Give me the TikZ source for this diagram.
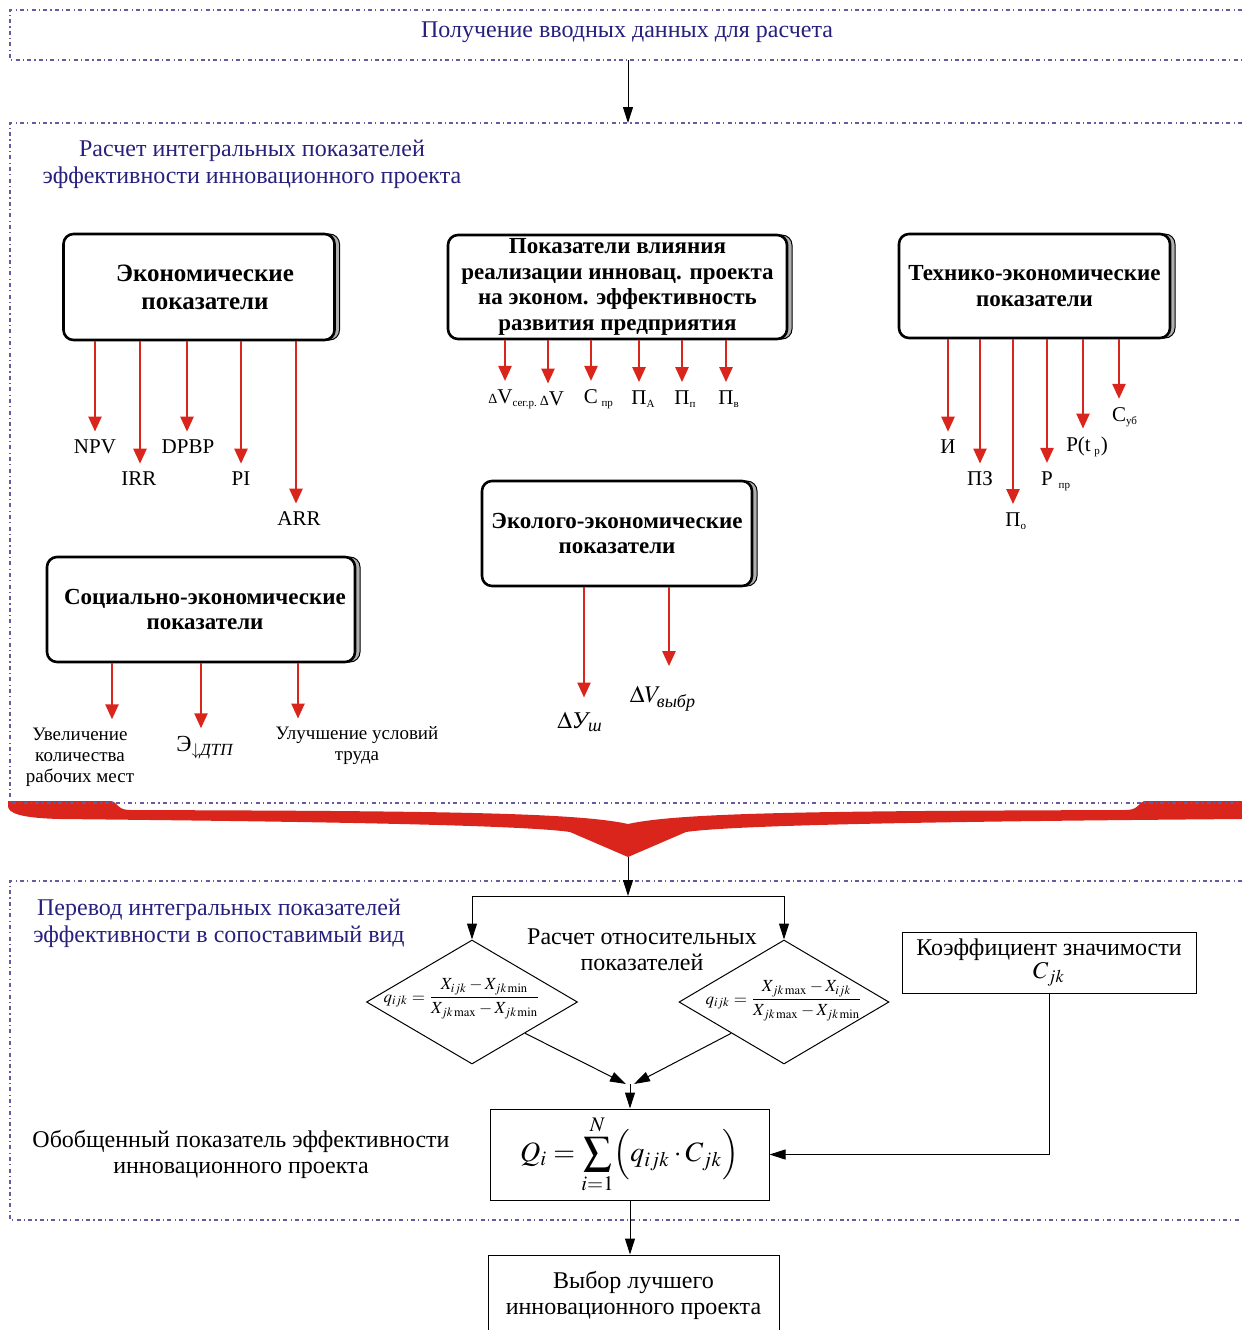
\documentclass[tikz,border=0pt]{standalone}
\usepackage{amsmath}
\usepackage{mathptmx}
\usepackage[no-math]{fontspec}
\setmainfont{Liberation Serif}
\usetikzlibrary{arrows.meta,shapes.geometric,shadows}

\definecolor{frameviolet}{RGB}{105,90,160}
\definecolor{headnavy}{RGB}{40,32,125}
\definecolor{arrowred}{RGB}{218,37,29}
\definecolor{shadegray}{RGB}{175,175,175}

\newcommand{\tinysub}[1]{\textsubscript{\fontsize{5.5}{6}\selectfont #1}}

\tikzset{
  frame/.style={draw=frameviolet, line width=0.7pt, dash pattern=on 2pt off 1.6pt on 0.6pt off 1.6pt},
  heading/.style={text=headnavy, align=center, inner sep=0pt, font=\fontsize{12}{13.5}\selectfont},
  plaintext/.style={align=center, inner sep=0pt, font=\fontsize{12}{13}\selectfont},
  groupbox/.style={draw, line width=1.3pt, rounded corners=5pt, fill=white, align=center, inner sep=0pt,
    font=\bfseries\fontsize{11.5}{12.8}\selectfont,
    copy shadow={shadow xshift=2.5pt, shadow yshift=0pt, fill=shadegray, draw=black, line width=0.5pt}},
  plainbox/.style={draw, line width=0.5pt, align=center, inner sep=0pt, fill=white},
  indlabel/.style={inner sep=1pt, align=center, font=\fontsize{10.5}{12}\selectfont},
  redarrow/.style={draw=arrowred, line width=1.2pt, -{Triangle[length=7.5pt,width=6.5pt]}, shorten >=3pt},
  thinarrow/.style={line width=0.5pt, -{Triangle[length=8pt,width=5pt]}},
  formula/.style={diamond, draw, line width=0.5pt, inner sep=0pt},
}

\begin{document}
\begin{tikzpicture}[x=0.5pt,y=-0.5pt]
  \useasboundingbox (0,0) rectangle (1242,1330);

  % red brace gathering the indicators
  \fill[arrowred] (8,801) -- (110,801) .. controls (118,801) and (116,810) .. (130,810)
    .. controls (420,811) and (575,812) .. (628,824)
    .. controls (681,812) and (836,811) .. (1126,810)
    .. controls (1140,810) and (1138,801) .. (1146,801) -- (1242,801) -- (1242,819)
    .. controls (1000,821) and (740,824) .. (686,832) -- (628,857) -- (570,832)
    .. controls (516,824) and (250,821) .. (60,819) .. controls (20,818) and (8,813) .. (8,806) -- cycle;

  % stage frames
  \draw[frame] (1242,10) -- (10,10) -- (10,60) -- (1242,60);
  \draw[frame] (1242,123) -- (10,123) -- (10,803) -- (1242,803);
  \draw[frame] (1242,881) -- (10,881) -- (10,1220) -- (1242,1220);

  \node[heading] (input) at (627,32) {Получение вводных данных для расчета};
  \coordinate (inputbot) at (628,60);
  \coordinate (calctop) at (628,123);
  \draw[thinarrow] (inputbot) -- (calctop);

  \node[heading] (calc) at (252,164) {Расчет интегральных показателей\\эффективности инновационного проекта};

  % groups of indicators
  \node[groupbox, minimum width=135.5pt, minimum height=53pt, font=\bfseries\fontsize{12.5}{14}\selectfont] (econ) at (199,287) {\hspace*{6pt}Экономические\\\hspace*{6pt}показатели};
  \node[groupbox, minimum width=169.5pt, minimum height=52pt] (impact) at (617.5,287) {Показатели влияния\\реализации инновац. проекта\\на эконом. эффективность\\развития предприятия};
  \node[groupbox, minimum width=135.5pt, minimum height=52pt] (tech) at (1034.5,286) {Технико-экономические\\показатели};
  \node[groupbox, minimum width=154pt, minimum height=52.5pt] (soc) at (201,609.5) {\hspace*{4pt}Социально-экономические\\\hspace*{4pt}показатели};
  \node[groupbox, minimum width=135pt, minimum height=52.5pt] (eco) at (617,533.5) {Эколого-экономические\\показатели};

  % economic
  \node[indlabel] (npv) at (95,447) {NPV};
  \node[indlabel] (irr) at (139,479) {IRR};
  \node[indlabel] (dpbp) at (188,447) {DPBP};
  \node[indlabel] (pi) at (241,479) {PI};
  \node[indlabel] (arr) at (299,519) {ARR};
  \draw[redarrow] (econ.south -| 95,0) -- (95,0 |- npv.north);
  \draw[redarrow] (econ.south -| 140,0) -- (140,0 |- irr.north);
  \draw[redarrow] (econ.south -| 187,0) -- (187,0 |- dpbp.north);
  \draw[redarrow] (econ.south -| 241,0) -- (241,0 |- pi.north);
  \draw[redarrow] (econ.south -| 296,0) -- (296,0 |- arr.north);

  % impact on the enterprise
  \node[indlabel] (dvs) at (505,399) {\llap{\scriptsize Δ}V\rlap{\tinysub{сег.р.}}};
  \node[indlabel] (dv) at (552,399) {{\scriptsize Δ}V};
  \node[indlabel] (cpr) at (591,399) {С\rlap{\,\tinysub{пр}}};
  \node[indlabel] (pa) at (639,399) {П\rlap{\tinysub{А}}};
  \node[indlabel] (pp) at (682,399) {П\rlap{\tinysub{п}}};
  \node[indlabel] (pv) at (726,399) {П\rlap{\tinysub{в}}};
  \draw[redarrow] (impact.south -| dvs) -- (dvs.north);
  \draw[redarrow] (impact.south -| 548,0) -- (548,0 |- dv.north);
  \draw[redarrow] (impact.south -| cpr) -- (cpr.north);
  \draw[redarrow] (impact.south -| pa) -- (pa.north);
  \draw[redarrow] (impact.south -| pp) -- (pp.north);
  \draw[redarrow] (impact.south -| pv) -- (pv.north);

  % technical and economic
  \node[indlabel] (ii) at (948,447) {И};
  \node[indlabel] (pz) at (980,479) {ПЗ};
  \node[indlabel] (po) at (1013,521) {П\rlap{\tinysub{о}}};
  \node[indlabel] (rpr) at (1047,481) {Р\rlap{\;\tinysub{пр}}};
  \node[indlabel] (rtp) at (1087,447) {Р(t\,\tinysub{р})};
  \node[indlabel] (cub) at (1119,417) {С\rlap{\tinysub{уб}}};
  \draw[redarrow] (tech.south -| ii) -- (ii.north);
  \draw[redarrow] (tech.south -| pz) -- (pz.north);
  \draw[redarrow] (tech.south -| po) -- (po.north);
  \draw[redarrow] (tech.south -| rpr) -- (rpr.north);
  \draw[redarrow] (tech.south -| 1083,0) -- (1083,0 |- rtp.north);
  \draw[redarrow] (tech.south -| cub) -- (cub.north);

  % social and economic
  \node[indlabel, font=\fontsize{9.5}{10.5}\selectfont] (jobs) at (80,757) {Увеличение\\количества\\рабочих мест};
  \node[indlabel, font=\fontsize{11.5}{12}\selectfont] (edtp) at (205,748) {Э$_{\downarrow\text{\itshape ДТП}}$};
  \node[indlabel, font=\fontsize{9.5}{10.5}\selectfont] (labor) at (357,746) {Улучшение условий\\труда};
  \draw[redarrow] (soc.south -| 112,0) -- (112,0 |- jobs.north);
  \draw[redarrow] (soc.south -| 201,0) -- (201,0 |- edtp.north);
  \draw[redarrow] (soc.south -| 298,0) -- (298,0 |- labor.north);

  % ecological and economic
  \node[indlabel, font=\fontsize{12}{13}\selectfont] (dush) at (580,722) {$\Delta\text{\itshape У}_{\text{\itshape ш}}$};
  \node[indlabel, font=\fontsize{12}{13}\selectfont] (dvv) at (663,699) {$\Delta V_{\text{\itshape выбр}}$};
  \draw[redarrow, shorten >=6pt] (eco.south -| 584,0) -- (584,0 |- dush.north);
  \draw[redarrow, shorten >=9pt] (eco.south -| 669,0) -- (669,0 |- dvv.north);

  % comparable form
  \coordinate (bracetip) at (628,857);
  \coordinate (fork) at (628,896);
  \node[heading] (conv) at (219,923) {Перевод интегральных показателей\\эффективности в сопоставимый вид};
  \node[plaintext] (rel) at (642,950) {Расчет относительных\\показателей};

  \node[formula, minimum width=105.5pt, minimum height=62pt] (ldia) at (472,1002) {};
  \node[formula, minimum width=105pt, minimum height=62pt] (rdia) at (784,1002) {};
  \node[inner sep=0pt, font=\fontsize{8.5}{10}\selectfont] (lq) at (462,999)
    {$q_{ijk}=\dfrac{X_{ijk}-X_{jk\min}}{X_{jk\max}-X_{jk\min}}$};
  \node[inner sep=0pt, font=\fontsize{8.5}{10}\selectfont] (rq) at (784,1001)
    {$q_{ijk}=\dfrac{X_{jk\max}-X_{ijk}}{X_{jk\max}-X_{jk\min}}$};

  \node[plainbox, minimum width=147pt, minimum height=30.5pt, font=\fontsize{12}{11.5}\selectfont] (coef) at (1049,962.5)
    {Коэффициент значимости\\$C_{jk}$};

  \node[plaintext] (gen) at (241,1154) {Обобщенный показатель эффективности\\инновационного проекта};
  \node[plainbox, minimum width=139.5pt, minimum height=45.5pt, font=\fontsize{14}{16}\selectfont] (qbox) at (629.5,1154.5)
    {$\displaystyle Q_i=\sum_{i=1}^{N}\Bigl(q_{ijk}\cdot C_{jk}\Bigr)$};

  \node[plainbox, minimum width=145.5pt, minimum height=40pt, font=\fontsize{12}{13}\selectfont] (best) at (633.5,1295)
    {Выбор лучшего\\инновационного проекта};

  \coordinate (join) at (630,1084);
  \draw[thinarrow] (bracetip) -- (fork);
  \draw (ldia.north |- fork) -- (rdia.north |- fork);
  \draw[thinarrow] (ldia.north |- fork) -- (ldia.north);
  \draw[thinarrow] (rdia.north |- fork) -- (rdia.north);
  \draw[thinarrow] (ldia.south east) -- ([xshift=-2pt]join);
  \draw[thinarrow] (rdia.south west) -- ([xshift=2pt]join);
  \draw[thinarrow] (join) -- (join |- qbox.north);
  \draw[thinarrow] (coef.south) -- (coef.south |- qbox.east) -- (qbox.east);
  \draw[thinarrow] (qbox.south -| join) -- (join |- best.north);
\end{tikzpicture}
\end{document}
